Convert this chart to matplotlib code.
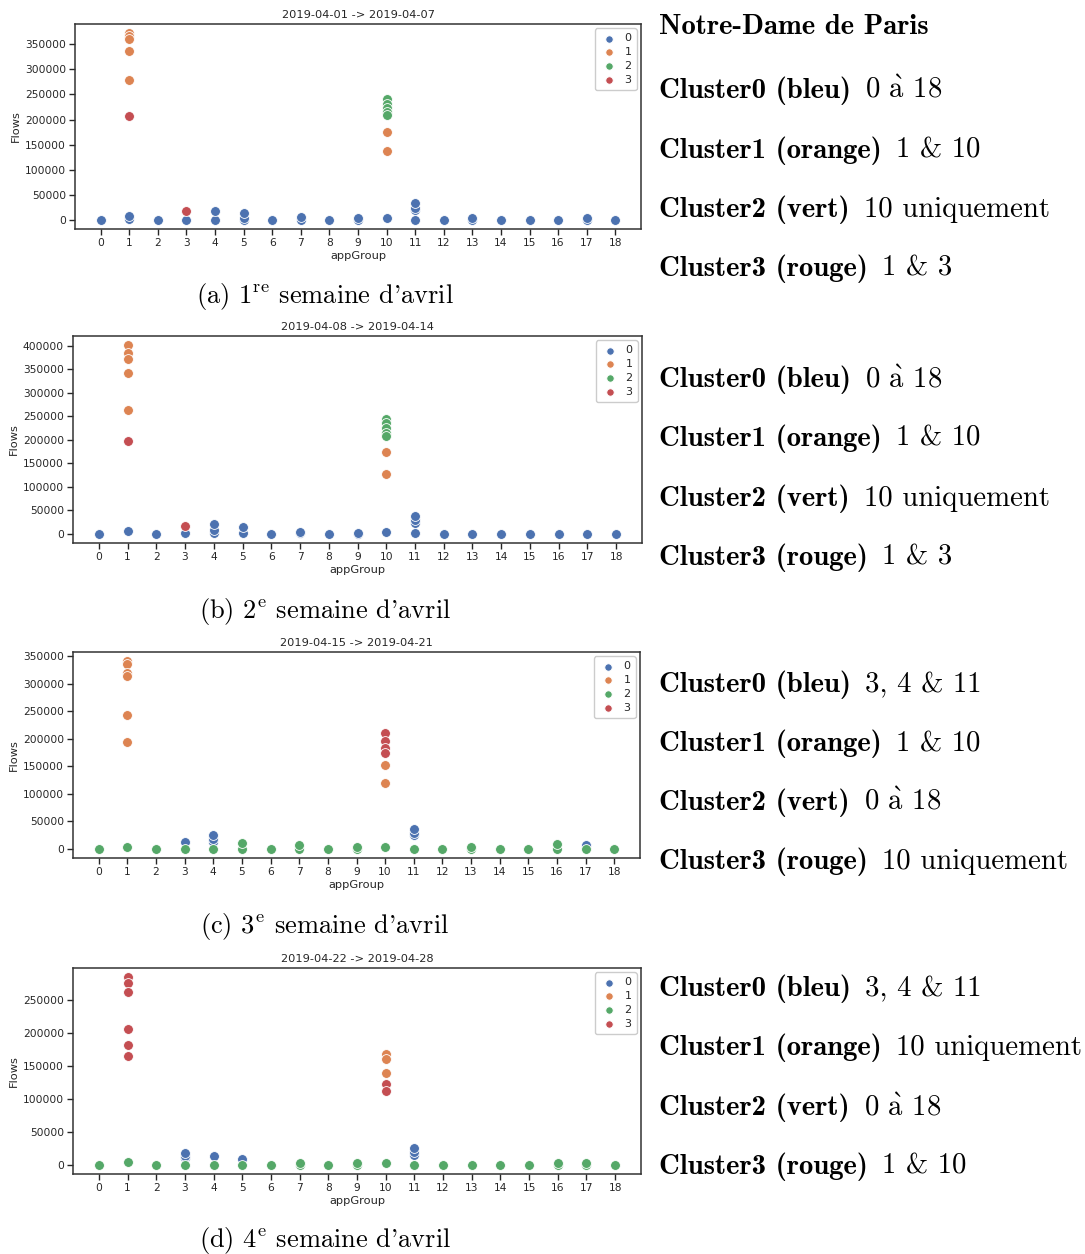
import matplotlib
matplotlib.use('Agg')
import matplotlib.pyplot as plt
from matplotlib.text import Annotation

# ---- data (appGroup, Flows, cluster) ----
titles = ['2019-04-01 -> 2019-04-07', '2019-04-08 -> 2019-04-14',
          '2019-04-15 -> 2019-04-21', '2019-04-22 -> 2019-04-28']
captions = ["(a) 1$^{\\mathrm{re}}$ semaine d'avril", "(b) 2$^{\\mathrm{e}}$ semaine d'avril",
            "(c) 3$^{\\mathrm{e}}$ semaine d'avril", "(d) 4$^{\\mathrm{e}}$ semaine d'avril"]
app_groups = list(range(19))

w1_group = [0, 1, 1, 1, 1, 1, 1, 1, 1, 2, 3, 3, 4, 4, 5, 5, 5, 6, 7, 7, 8, 9, 9,
            10, 10, 10, 10, 10, 10, 10, 10, 11, 11, 11, 11, 12, 13, 13, 14, 15, 16, 17, 17, 18]
w1_flows = [300, 2000, 7000, 372000, 366000, 360000, 337000, 278000, 207000, 300, 500, 17000, 500, 18000,
            500, 3000, 13000, 200, 500, 5000, 300, 300, 3000,
            4500, 240000, 230000, 224000, 215000, 209000, 176000, 137500, 500, 20000, 24000, 33500,
            300, 300, 3000, 300, 300, 300, 500, 4500, 300]
w1_cluster = [0, 0, 0, 1, 1, 1, 1, 1, 3, 0, 0, 3, 0, 0, 0, 0, 0, 0, 0, 0, 0, 0, 0,
              0, 2, 2, 2, 2, 2, 1, 1, 0, 0, 0, 0, 0, 0, 0, 0, 0, 0, 0, 0, 0]

w2_group = [0, 1, 1, 1, 1, 1, 1, 1, 2, 3, 3, 4, 4, 4, 5, 5, 6, 7, 7, 8, 9, 9,
            10, 10, 10, 10, 10, 10, 10, 10, 11, 11, 11, 11, 12, 13, 14, 15, 16, 17, 18]
w2_flows = [300, 5000, 401000, 385000, 372000, 342000, 264000, 198000, 300, 500, 17000, 500, 9000, 20000,
            500, 14000, 300, 500, 4500, 300, 300, 2500,
            3500, 244000, 236000, 226000, 214000, 209000, 173000, 128000, 500, 23000, 29000, 38000,
            300, 300, 300, 300, 300, 300, 300]
w2_cluster = [0, 0, 1, 1, 1, 1, 1, 3, 0, 0, 3, 0, 0, 0, 0, 0, 0, 0, 0, 0, 0, 0,
              0, 2, 2, 2, 2, 2, 1, 1, 0, 0, 0, 0, 0, 0, 0, 0, 0, 0, 0]

w3_group = [0, 1, 1, 1, 1, 1, 1, 1, 2, 3, 3, 4, 4, 4, 4, 5, 5, 6, 7, 7, 8, 9, 9,
            10, 10, 10, 10, 10, 10, 10, 11, 11, 11, 11, 12, 13, 13, 14, 15, 16, 16, 17, 17, 18]
w3_flows = [300, 4000, 341000, 336000, 320000, 315000, 244000, 194000, 300, 300, 13000,
            300, 12700, 17000, 25000, 300, 10000, 300, 300, 6500, 300, 300, 3500,
            3000, 210000, 196000, 184000, 174000, 153000, 119000, 500, 25000, 29000, 36000,
            300, 300, 2500, 300, 300, 300, 8000, 300, 6700, 300]
w3_cluster = [2, 2, 1, 1, 1, 1, 1, 1, 2, 2, 0, 2, 0, 0, 0, 2, 2, 2, 2, 2, 2, 2, 2,
              2, 3, 3, 3, 3, 1, 1, 2, 0, 0, 0, 2, 2, 2, 2, 2, 2, 2, 2, 0, 2]

w4_group = [0, 1, 1, 1, 1, 1, 1, 1, 2, 3, 3, 3, 3, 4, 4, 5, 5, 6, 7, 7, 8, 9, 9,
            10, 10, 10, 10, 10, 10, 11, 11, 11, 11, 12, 13, 14, 15, 16, 16, 17, 17, 18]
w4_flows = [300, 5000, 284000, 276000, 262000, 205500, 181000, 164600, 300, 300, 10000, 14000, 18000,
            300, 13600, 300, 8500, 300, 300, 3000, 300, 300, 2500,
            2500, 167700, 160000, 138400, 122200, 112100, 500, 15000, 19200, 25800,
            300, 300, 300, 300, 300, 2500, 300, 2500, 300]
w4_cluster = [2, 2, 3, 3, 3, 3, 3, 3, 2, 2, 0, 0, 0, 2, 0, 2, 0, 2, 2, 2, 2, 2, 2,
              2, 1, 1, 1, 3, 3, 2, 0, 0, 0, 2, 2, 2, 2, 2, 2, 2, 2, 2]

A_GRAVE = '$\\grave{\\mathrm{a}}$'
notes = [
    [('Cluster0 (bleu)', '0 ' + A_GRAVE + ' 18'), ('Cluster1 (orange)', '1 & 10'),
     ('Cluster2 (vert)', '10 uniquement'), ('Cluster3 (rouge)', '1 & 3')],
    [('Cluster0 (bleu)', '0 ' + A_GRAVE + ' 18'), ('Cluster1 (orange)', '1 & 10'),
     ('Cluster2 (vert)', '10 uniquement'), ('Cluster3 (rouge)', '1 & 3')],
    [('Cluster0 (bleu)', '3, 4 & 11'), ('Cluster1 (orange)', '1 & 10'),
     ('Cluster2 (vert)', '0 ' + A_GRAVE + ' 18'), ('Cluster3 (rouge)', '10 uniquement')],
    [('Cluster0 (bleu)', '3, 4 & 11'), ('Cluster1 (orange)', '10 uniquement'),
     ('Cluster2 (vert)', '0 ' + A_GRAVE + ' 18'), ('Cluster3 (rouge)', '1 & 10')],
]

weeks = [(w1_group, w1_flows, w1_cluster), (w2_group, w2_flows, w2_cluster),
         (w3_group, w3_flows, w3_cluster), (w4_group, w4_flows, w4_cluster)]

# seaborn "deep" palette
colors = ['#4C72B0', '#DD8452', '#55A868', '#C44E52']

W, H = 1085, 1254
plt.rcParams['mathtext.fontset'] = 'cm'
fig = plt.figure(figsize=(W / 100, H / 100), dpi=100)

# axes boxes in pixels: left, top, right, bottom
boxes = [(75, 24, 641, 229), (73, 336, 642, 543), (73, 652, 640, 858), (73, 968, 641, 1174)]
caption_y = [296, 611, 927, 1241]
note_y = [[89, 149, 208, 267], [378, 437, 497, 556], [683, 742, 801, 860], [987, 1046, 1106, 1165]]

REG = ['cmr10', 'DejaVu Serif']
BOLD = ['cmb10', 'DejaVu Serif']
NOTE_FS = 20.7
ink = '#262626'


def add_note(y_px, bold, rest):
    yf = 1 - y_px / H
    t = fig.text(659 / W, yf, bold, family=BOLD, fontsize=NOTE_FS, va='baseline', color='black')
    a = Annotation(rest, xy=(1, yf), xycoords=(t, 'figure fraction'), xytext=(10, 0),
                   textcoords='offset points', va='baseline', family=REG, fontsize=NOTE_FS)
    fig.add_artist(a)


for i, (grp, flows, clus) in enumerate(weeks):
    l, t, r, b = boxes[i]
    ax = fig.add_axes([l / W, 1 - b / H, (r - l) / W, (b - t) / H])
    for c in range(4):
        xs = [g for g, k in zip(grp, clus) if k == c]
        ys = [f for f, k in zip(flows, clus) if k == c]
        ax.scatter(xs, ys, s=50, color=colors[c], edgecolor='white', linewidth=0.6,
                   label=str(c), zorder=3)
    ax.set_xticks(app_groups)
    ax.set_title(titles[i], fontsize=8.2, color=ink, pad=4)
    ax.set_xlabel('appGroup', fontsize=8.2, color=ink, labelpad=2)
    ax.set_ylabel('Flows', fontsize=8.2, color=ink, labelpad=3)
    ax.tick_params(labelsize=7.7, colors=ink, length=4, width=1, pad=2.5)
    for sp in ax.spines.values():
        sp.set_color('#333333')
        sp.set_linewidth(1.1)
    leg = ax.legend(loc='upper right', fontsize=8, markerscale=0.75, handletextpad=0.6,
                    borderpad=0.45, labelspacing=0.35, handlelength=1.6, framealpha=1,
                    borderaxespad=0.4)
    leg.get_frame().set_edgecolor('0.8')
    for txt in leg.get_texts():
        txt.set_color(ink)

    fig.text(325 / W, 1 - caption_y[i] / H, captions[i], family=REG, fontsize=19,
             ha='center', va='center')
    for y_px, (bold, rest) in zip(note_y[i], notes[i]):
        add_note(y_px + 9, bold, rest)

fig.text(659 / W, 1 - 34 / H, 'Notre-Dame de Paris', family=BOLD, fontsize=NOTE_FS, va='baseline')

fig.savefig('out.png', dpi=100)
